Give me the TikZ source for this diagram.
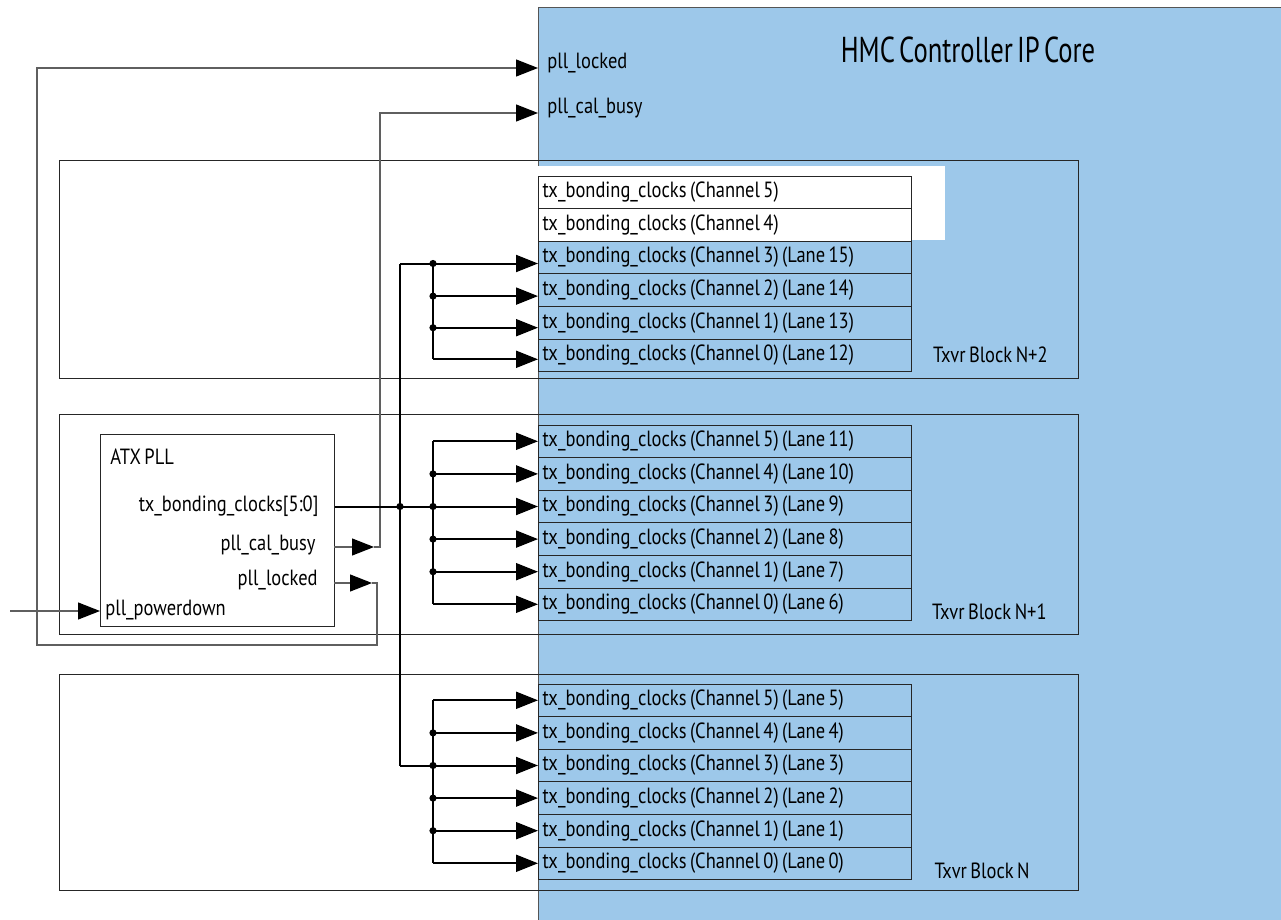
\documentclass[tikz,border=0pt]{standalone}
\usepackage{fontspec}
\setmainfont[FakeStretch=0.84,WordSpace=0.7]{PT Sans}
\newfontfamily\titlefont[FakeStretch=0.74,WordSpace=0.6]{PT Sans}
\usetikzlibrary{arrows.meta,positioning}
\definecolor{coreblue}{RGB}{157,200,234}
\definecolor{coreline}{RGB}{85,85,85}
\definecolor{sigline}{RGB}{95,95,95}
\tikzset{
  lbl/.style={inner sep=0pt, font=\fontsize{11}{13}\selectfont},
  row/.style={draw=black!85, fill=coreblue, anchor=north west, minimum width=186.5pt,
    minimum height=16.3pt, text width=182pt, inner xsep=2.25pt, inner ysep=0pt,
    align=flush left, outer sep=0pt, font=\fontsize{11}{13}\selectfont},
  blk/.style={draw=black!85, anchor=north west, minimum width=509.5pt, inner sep=0pt},
  bus/.style={line width=1pt, -{Triangle[length=11pt,width=8.5pt]}},
  wire/.style={line width=1pt},
  sig/.style={draw=sigline, line width=0.6pt, -{Triangle[length=11pt,width=8.5pt,color=black]}},
  jdot/.style={fill=black}
}
\begin{document}
\begin{tikzpicture}[x=0.5pt,y=-0.5pt]
      \clip (0,0) rectangle (1281,920);
      \node[draw=coreline, fill=coreblue, anchor=north west, minimum width=381pt,
        minimum height=461.5pt] (core) at (538,7) {};
      \node[font=\titlefont\fontsize{18}{21}\selectfont] (ttl) at (968,50) {HMC Controller IP Core};
      \fill[white] (538,166) rectangle (945,240);
      % transceiver blocks
      \node[blk, minimum height=109pt] (blkN2) at (59,160) {};
      \node[blk, minimum height=110pt] (blkN1) at (59,414) {};
      \node[blk, minimum height=108pt] (blkN0) at (59,674) {};
      \node[lbl, anchor=east] (tN2) at (1048,355) {Txvr Block N+2};
      \node[lbl, anchor=east] (tN1) at (1047,612) {Txvr Block N+1};
      \node[lbl, anchor=east] (tN0) at (1030,871) {Txvr Block N};
      % block N+2
      \node[row, fill=white] (n2c5) at (538,176) {tx\_bonding\_clocks (Channel 5)};
      \node[row, fill=white, below=0pt of n2c5] (n2c4) {tx\_bonding\_clocks (Channel 4)};
      \node[row, below=0pt of n2c4] (n2c3) {tx\_bonding\_clocks (Channel 3) (Lane 15)};
      \node[row, below=0pt of n2c3] (n2c2) {tx\_bonding\_clocks (Channel 2) (Lane 14)};
      \node[row, below=0pt of n2c2] (n2c1) {tx\_bonding\_clocks (Channel 1) (Lane 13)};
      \node[row, below=0pt of n2c1] (n2c0) {tx\_bonding\_clocks (Channel 0) (Lane 12)};
      % block N+1
      \node[row] (n1c5) at (538,425) {tx\_bonding\_clocks (Channel 5) (Lane 11)};
      \node[row, below=0pt of n1c5] (n1c4) {tx\_bonding\_clocks (Channel 4) (Lane 10)};
      \node[row, below=0pt of n1c4] (n1c3) {tx\_bonding\_clocks (Channel 3) (Lane 9)};
      \node[row, below=0pt of n1c3] (n1c2) {tx\_bonding\_clocks (Channel 2) (Lane 8)};
      \node[row, below=0pt of n1c2] (n1c1) {tx\_bonding\_clocks (Channel 1) (Lane 7)};
      \node[row, below=0pt of n1c1] (n1c0) {tx\_bonding\_clocks (Channel 0) (Lane 6)};
      % block N
      \node[row] (n0c5) at (538,684) {tx\_bonding\_clocks (Channel 5) (Lane 5)};
      \node[row, below=0pt of n0c5] (n0c4) {tx\_bonding\_clocks (Channel 4) (Lane 4)};
      \node[row, below=0pt of n0c4] (n0c3) {tx\_bonding\_clocks (Channel 3) (Lane 3)};
      \node[row, below=0pt of n0c3] (n0c2) {tx\_bonding\_clocks (Channel 2) (Lane 2)};
      \node[row, below=0pt of n0c2] (n0c1) {tx\_bonding\_clocks (Channel 1) (Lane 1)};
      \node[row, below=0pt of n0c1] (n0c0) {tx\_bonding\_clocks (Channel 0) (Lane 0)};
      % ATX PLL
      \node[draw=black!85, anchor=north west, minimum width=117pt, minimum height=96pt,
        inner sep=0pt] (pll) at (100,434) {};
      \node[lbl, anchor=west] (atx) at (110,457) {ATX PLL};
      \coordinate (txout) at (pll.east |- n1c3.west);
      \node[lbl, anchor=east] (txlbl) at ([xshift=-8pt]txout) {tx\_bonding\_clocks[5:0]};
      \node[lbl, anchor=east] (calout) at (316,545) {pll\_cal\_busy};
      \node[lbl, anchor=east] (lockout) at (318,580) {pll\_locked};
      \node[lbl, anchor=west] (pdin) at (105,610) {pll\_powerdown};
      \node[lbl, anchor=west] (lockin) at (547,63) {pll\_locked};
      \node[lbl, anchor=west] (calin) at (547,108) {pll\_cal\_busy};
      \coordinate (calsrc) at (334,547);
      \coordinate (calhead) at (374,547);
      \coordinate (calturn) at (380,547);
      \coordinate (calpin) at (538,113);
      \coordinate (locksrc) at (334,583);
      \coordinate (lockhead) at (372,583);
      \coordinate (lockturn) at (377,645);
      \coordinate (lockcorner) at (37,645);
      \coordinate (lockpin) at (538,68);
      \coordinate (pdsrc) at (10,611);
      \coordinate (pdpin) at (100,611);
      \coordinate (trunk) at (400,0);
      \coordinate (br) at (433,0);
      % pins of block N+2 sit a little low
      \coordinate (p3) at ([yshift=-3pt]n2c3.west);
      \coordinate (p2) at ([yshift=-3pt]n2c2.west);
      \coordinate (p1) at ([yshift=-2.5pt]n2c1.west);
      \coordinate (p0) at ([yshift=-2pt]n2c0.west);
      % control signals
      \draw[sig] (calsrc) -- (calhead);
      \draw[sig] (calhead) -- (calturn) |- (calpin);
      \draw[sig] (locksrc) -- (lockhead);
      \draw[sig] (lockhead) -| (lockturn) -- (lockcorner) |- (lockpin);
      \draw[sig] (pdsrc) -- (pdpin);
      % bonding clock bus
      \draw[wire] (trunk |- p3) -- (trunk |- n0c3.west);
      \draw[bus] (txout) -- (n1c3.west);
      \draw[bus] (trunk |- p3) -- (p3);
      \draw[wire] (br |- p3) -- (br |- p0);
      \draw[bus] (br |- p2) -- (p2);
      \draw[bus] (br |- p1) -- (p1);
      \draw[bus] (br |- p0) -- (p0);
      \draw[wire] (br |- n1c5.west) -- (br |- n1c0.west);
      \draw[bus] (br |- n1c5.west) -- (n1c5.west);
      \draw[bus] (br |- n1c4.west) -- (n1c4.west);
      \draw[bus] (br |- n1c2.west) -- (n1c2.west);
      \draw[bus] (br |- n1c1.west) -- (n1c1.west);
      \draw[bus] (br |- n1c0.west) -- (n1c0.west);
      \draw[bus] (trunk |- n0c3.west) -- (n0c3.west);
      \draw[wire] (br |- n0c5.west) -- (br |- n0c0.west);
      \draw[bus] (br |- n0c5.west) -- (n0c5.west);
      \draw[bus] (br |- n0c4.west) -- (n0c4.west);
      \draw[bus] (br |- n0c2.west) -- (n0c2.west);
      \draw[bus] (br |- n0c1.west) -- (n0c1.west);
      \draw[bus] (br |- n0c0.west) -- (n0c0.west);
      % junctions
      \fill[jdot] (br |- p3) circle (1.8pt);
      \fill[jdot] (br |- p2) circle (1.8pt);
      \fill[jdot] (br |- p1) circle (1.8pt);
      \fill[jdot] (trunk |- n1c3.west) circle (1.8pt);
      \fill[jdot] (br |- n1c4.west) circle (1.8pt);
      \fill[jdot] (br |- n1c3.west) circle (1.8pt);
      \fill[jdot] (br |- n1c2.west) circle (1.8pt);
      \fill[jdot] (br |- n1c1.west) circle (1.8pt);
      \fill[jdot] (br |- n0c4.west) circle (1.8pt);
      \fill[jdot] (br |- n0c3.west) circle (1.8pt);
      \fill[jdot] (br |- n0c2.west) circle (1.8pt);
      \fill[jdot] (br |- n0c1.west) circle (1.8pt);
    \end{tikzpicture}
\end{document}
